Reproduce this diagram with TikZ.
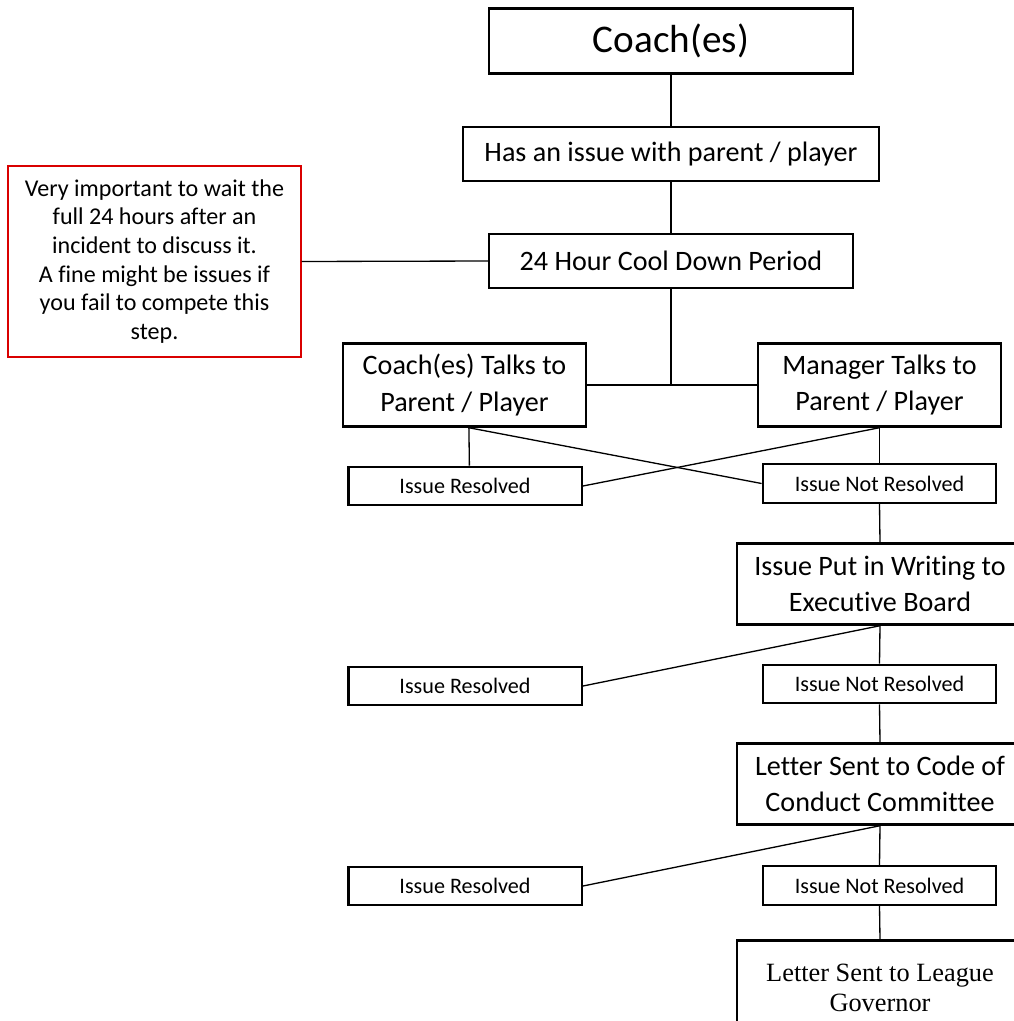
\documentclass[tikz,border=0pt]{standalone}
\usepackage{fontspec}
\setmainfont{Carlito}[Ligatures=NoCommon]
\newfontfamily\timesfont{Liberation Serif}
\tikzset{
    box/.style={draw, line width=1.4pt, align=center, inner sep=2pt,
        font=\fontsize{16}{20.8}\selectfont},
    smallbox/.style={draw, line width=1.4pt, align=center, inner sep=1pt,
        minimum width=4.67cm, minimum height=0.77cm,
        font=\fontsize{12.6}{14}\selectfont},
    notebox/.style={draw=red!85!black, line width=0.8pt, align=center,
        minimum width=5.86cm, minimum height=3.82cm,
        font=\fontsize{13.7}{16.3}\selectfont},
    link/.style={line width=0.75pt}
}
\begin{document}
\begin{tikzpicture}[x=0.02cm, y=-0.02cm]
    \useasboundingbox (0,0) rectangle (1014,1021);
    \clip (0,0) rectangle (1014,1021);
    % top of the chain
    \node[box, minimum width=7.28cm, minimum height=1.3cm,
        font=\fontsize{22.3}{26}\selectfont] (coach) at (671,41) {Coach(es)};
    \node[box, minimum width=8.32cm, minimum height=1.08cm] (issue) at (671,154) {Has an issue with parent / player};
    \node[box, minimum width=7.28cm, minimum height=1.08cm] (cool) at (671,261) {24 Hour Cool Down Period};
    \node[notebox] (note) at (154.5,261.5) {Very important to wait the\\full 24 hours after an\\incident to discuss it.\\A fine might be issues if\\you fail to compete this\\step.};
    % talks
    \node[box, minimum width=4.86cm, minimum height=1.66cm] (ctalk) at (464.5,385) {Coach(es) Talks to\\Parent / Player};
    \node[box, minimum width=4.86cm, minimum height=1.66cm] (mtalk) at (879.5,385) {Manager Talks to\\Parent / Player};
    \node[smallbox] (res1) at (465,486) {Issue Resolved};
    \node[smallbox] (nres1) at (879.5,483.5) {Issue Not Resolved};
    % board
    \node[box, minimum width=5.72cm, minimum height=1.62cm] (board) at (880,584) {Issue Put in Writing to\\Executive Board};
    \node[smallbox] (res2) at (465,686) {Issue Resolved};
    \node[smallbox] (nres2) at (879.5,684) {Issue Not Resolved};
    % committee
    \node[box, minimum width=5.72cm, minimum height=1.62cm] (letter) at (880,784) {Letter Sent to Code of\\Conduct Committee};
    \node[smallbox] (res3) at (465,886) {Issue Resolved};
    \node[smallbox] (nres3) at (879.5,885.5) {Issue Not Resolved};
    \node[box, minimum width=5.72cm, minimum height=1.9cm,
        font=\timesfont\fontsize{15}{17}\selectfont] (league) at (880,988) {Letter Sent to League\\Governor};

    \draw[link] (coach) -- (issue);
    \draw[link] (issue) -- (cool);
    \draw[link] (note.east) -- (cool.west);
    \draw[link] (cool.south) -- (cool.south |- ctalk.east);
    \draw[link] (ctalk.east) -- (mtalk.west);
    \draw[link] ([xshift=2.5]ctalk.south) -- ([xshift=2.5]res1.north);
    \draw[link] ([xshift=2.5]ctalk.south) -- (nres1.west);
    \draw[link] (mtalk.south) -- (res1.east);
    \draw[link] (mtalk.south) -- (nres1.north);
    \draw[link] (nres1.south) -- (board.north);
    \draw[link] (board.south) -- (res2.east);
    \draw[link] (board.south) -- (nres2.north);
    \draw[link] (nres2.south) -- (letter.north);
    \draw[link] (letter.south) -- (res3.east);
    \draw[link] (letter.south) -- (nres3.north);
    \draw[link] (nres3.south) -- (league.north);
\end{tikzpicture}
\end{document}
